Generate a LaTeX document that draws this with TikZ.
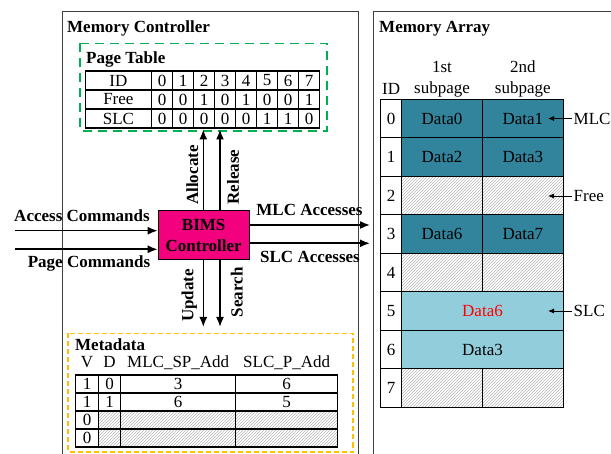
\documentclass[tikz,border=0pt]{standalone}
\usepackage{fontspec}
\setmainfont{Liberation Serif}
\usetikzlibrary{arrows.meta,positioning,patterns}
\definecolor{bimsPink}{HTML}{F2007E}
\definecolor{mlcTeal}{HTML}{31849B}
\definecolor{slcCyan}{HTML}{92CDDC}
\definecolor{ptGreen}{HTML}{00B050}
\definecolor{mdOrange}{HTML}{FFC000}
\definecolor{frameGray}{HTML}{404040}

\begin{document}
\fontsize{17}{21.5}\selectfont
\begin{tikzpicture}[x=1pt,y=-1pt,>=Latex,line join=miter]
\path[fill=white] (0,0) rectangle (611,454);
\useasboundingbox (0,0) rectangle (611,454);
\tikzset{frame/.style={draw=frameGray,line width=1pt},ttl/.style={font=\bfseries,anchor=base west,inner sep=0pt},lbl/.style={font=\bfseries,anchor=base,inner sep=0pt},cell/.style={draw,line width=1.1pt,inner sep=0pt},hatch/.style={pattern=north east lines,pattern color=black!28},flow/.style={line width=1.6pt,-{Latex[length=10pt,width=8pt]}},tag/.style={line width=0.9pt,-{Latex[length=6pt,width=5pt]}}}
% outer frames
\draw[frame] (62,454) -- (62,11.5) -- (358.5,11.5) -- (358.5,454);
\draw[frame] (373,454) -- (373,11.5) -- (611,11.5);
\node[ttl] (mcTitle) at (67,32.3) {Memory Controller};
\node[ttl] (maTitle) at (379,32.3) {Memory Array};
% page table
\draw[ptGreen,line width=1.6pt,dash pattern=on 9pt off 6pt] (80,43.5) rectangle (327,131);
\node[ttl] (ptTitle) at (86,63.3) {Page Table};
\node[cell,minimum width=66.7pt,minimum height=19pt] (pt1-h) at (118.4,80.5) {ID};
\node[cell,minimum width=66.7pt,minimum height=19pt] (pt2-h) at (118.4,99.5) {Free};
\node[cell,minimum width=66.7pt,minimum height=19pt] (pt3-h) at (118.4,118.5) {SLC};
\foreach \v [count=\c] in {0,1,2,3,4,5,6,7}
  \node[cell,minimum width=21pt,minimum height=19pt] (pt1-\c) at ({141.2+21*\c},80.5) {\v};
\foreach \v [count=\c] in {0,0,1,0,1,0,0,1}
  \node[cell,minimum width=21pt,minimum height=19pt] (pt2-\c) at ({141.2+21*\c},99.5) {\v};
\foreach \v [count=\c] in {0,0,0,0,0,1,1,0}
  \node[cell,minimum width=21pt,minimum height=19pt] (pt3-\c) at ({141.2+21*\c},118.5) {\v};
% controller
\node[draw,line width=1pt,fill=bimsPink,font=\bfseries,align=center,minimum width=91pt,minimum height=49pt,inner sep=0pt] (bims) at (203.7,235.5) {BIMS\\Controller};
\coordinate (allocTop) at (203.3,129.5);
\coordinate (relTop) at (220,129.5);
\coordinate (updBot) at (203.3,327);
\coordinate (srchBot) at (220,327);
\draw[flow] (allocTop |- bims.north) -- (allocTop);
\draw[flow] (relTop |- bims.north) -- (relTop);
\draw[flow] (updBot |- bims.south) -- (updBot);
\draw[flow] (srchBot |- bims.south) -- (srchBot);
\node[font=\bfseries,rotate=90,inner sep=0pt] (allocLbl) at (192.3,175) {Allocate};
\node[font=\bfseries,rotate=90,inner sep=0pt] (relLbl) at (233,177) {Release};
\node[font=\bfseries,rotate=90,inner sep=0pt] (updLbl) at (189.3,295.5) {Update};
\node[font=\bfseries,rotate=90,inner sep=0pt] (srchLbl) at (236.7,292.3) {Search};
% commands in
\coordinate (accIn) at (15,230.7);
\coordinate (pageIn) at (15,249.3);
\draw[flow] (accIn) -- (accIn -| bims.west);
\draw[flow] (pageIn) -- (pageIn -| bims.west);
\node[lbl] (accLbl) at (82,221.7) {Access Commands};
\node[lbl] (pageLbl) at (89,267.7) {Page Commands};
% accesses out
\coordinate (mlcOut) at (370,225);
\coordinate (slcOut) at (370,243.3);
\draw[flow] (mlcOut -| bims.east) -- (mlcOut);
\draw[flow] (slcOut -| bims.east) -- (slcOut);
\node[lbl] (mlcLbl) at (309.5,216) {MLC Accesses};
\node[lbl] (slcLbl) at (310,262.7) {SLC Accesses};
% metadata
\draw[mdOrange,line width=1.8pt,dash pattern=on 5pt off 3pt] (68,333.5) rectangle (353,452);
\node[ttl] (mdTitle) at (75,350.5) {Metadata};
\node[anchor=base,inner sep=0pt] (hV) at (87,367.2) {V};
\node[anchor=base,inner sep=0pt] (hD) at (109.5,367.2) {D};
\node[anchor=base,inner sep=0pt] (hMlc) at (178.2,367.2) {MLC\_SP\_Add};
\node[anchor=base,inner sep=0pt] (hSlc) at (286.7,367.2) {SLC\_P\_Add};
\foreach \r/\a/\b/\c/\d in {1/1/0/3/6,2/1/1/6/5} {
  \node[cell,minimum width=22.6pt,minimum height=18pt] (md\r-1) at (87,{366+18*\r}) {\a};
  \node[cell,minimum width=22.4pt,minimum height=18pt] (md\r-2) at (109.5,{366+18*\r}) {\b};
  \node[cell,minimum width=115pt,minimum height=18pt] (md\r-3) at (178.2,{366+18*\r}) {\c};
  \node[cell,minimum width=102pt,minimum height=18pt] (md\r-4) at (286.7,{366+18*\r}) {\d};
}
\foreach \r in {3,4} {
  \node[cell,minimum width=22.6pt,minimum height=18pt] (md\r-1) at (87,{366+18*\r}) {0};
  \node[cell,hatch,minimum width=22.4pt,minimum height=18pt] (md\r-2) at (109.5,{366+18*\r}) {};
  \node[cell,hatch,minimum width=115pt,minimum height=18pt] (md\r-3) at (178.2,{366+18*\r}) {};
  \node[cell,hatch,minimum width=102pt,minimum height=18pt] (md\r-4) at (286.7,{366+18*\r}) {};
}
% memory array
\node[anchor=base,inner sep=0pt] (maId) at (391.2,94.3) {ID};
\node[anchor=base,inner sep=0pt] (sp1a) at (442,72.7) {1st};
\node[anchor=base,inner sep=0pt] (sp1b) at (442,93.3) {subpage};
\node[anchor=base,inner sep=0pt] (sp2a) at (522.8,72.7) {2nd};
\node[anchor=base,inner sep=0pt] (sp2b) at (522.8,93.3) {subpage};
\foreach \r in {0,...,7}
  \node[cell,minimum width=21pt,minimum height=38.5pt] (id\r) at (391.2,{118.5+38.5*\r}) {\r};
\foreach \r/\da/\db in {0/Data0/Data1,1/Data2/Data3,3/Data6/Data7} {
  \node[cell,fill=mlcTeal,minimum width=80.6pt,minimum height=38.5pt] (sa\r) at (442,{118.5+38.5*\r}) {\da};
  \node[cell,fill=mlcTeal,minimum width=81pt,minimum height=38.5pt] (sb\r) at (522.8,{118.5+38.5*\r}) {\db};
}
\foreach \r in {2,4,7} {
  \node[cell,hatch,minimum width=80.6pt,minimum height=38.5pt] (sa\r) at (442,{118.5+38.5*\r}) {};
  \node[cell,hatch,minimum width=81pt,minimum height=38.5pt] (sb\r) at (522.8,{118.5+38.5*\r}) {};
}
\node[cell,fill=slcCyan,text=red,minimum width=161.6pt,minimum height=38.5pt] (sp5) at (482.5,311) {Data6};
\node[cell,fill=slcCyan,minimum width=161.6pt,minimum height=38.5pt] (sp6) at (482.5,349.5) {Data3};
% tags
\node[anchor=west,inner sep=1.5pt] (mlcTag) at (572,118.5) {MLC};
\node[anchor=west,inner sep=1.5pt] (freeTag) at (572,196) {Free};
\node[anchor=west,inner sep=1.5pt] (slcTag) at (572,311) {SLC};
\draw[tag] (mlcTag.west) -- ++(-24,0);
\draw[tag] (freeTag.west) -- ++(-24,0);
\draw[tag] (slcTag.west) -- ++(-24,0);
\end{tikzpicture}
\end{document}
